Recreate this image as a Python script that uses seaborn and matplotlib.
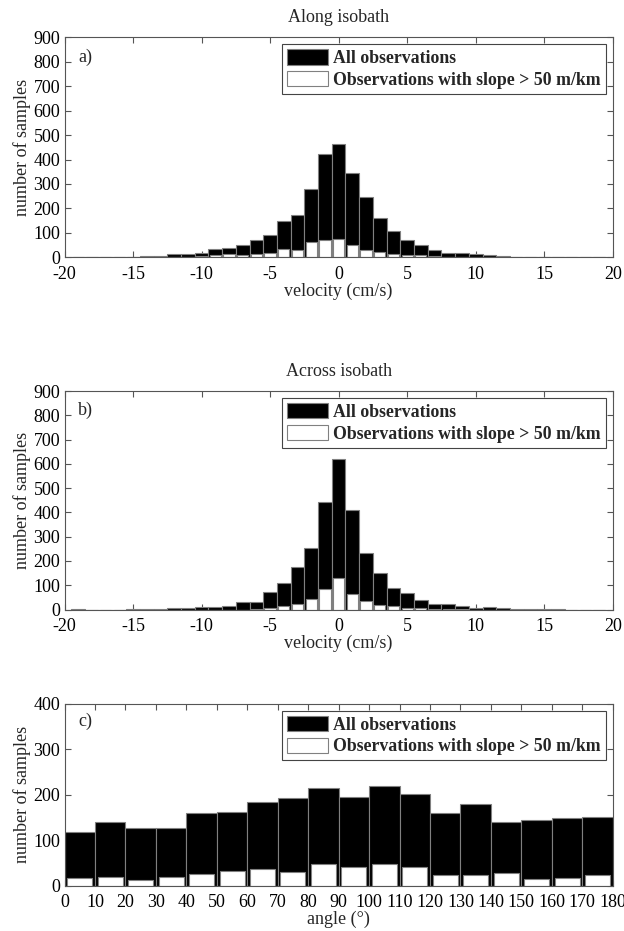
import matplotlib
matplotlib.use("Agg")
import matplotlib.pyplot as plt
from matplotlib.patches import Patch
import pandas as pd
import seaborn as sns

# velocity bins (cm/s), bar centres
velocity = list(range(-19, 20))

along_all = [0, 0, 2, 3, 1, 4, 5, 12, 12, 19, 34, 38, 51, 71, 92, 149, 175, 280, 423,
             464, 347, 248, 159, 108, 72, 51, 29, 19, 19, 15, 8, 4, 0, 0, 2, 3, 0, 0, 0]
along_slope = [0, 0, 0, 0, 0, 0, 0, 0, 3, 4, 8, 12, 11, 12, 19, 34, 31, 62, 71,
               77, 52, 30, 21, 12, 10, 11, 4, 0, 0, 0, 0, 0, 0, 0, 0, 0, 0, 0, 0]

across_all = [2, 0, 0, 0, 1, 3, 4, 7, 8, 11, 12, 16, 31, 31, 71, 109, 176, 255, 441,
              619, 409, 232, 152, 89, 68, 41, 22, 22, 16, 5, 12, 8, 3, 1, 4, 4, 0, 0, 0]
across_slope = [0, 0, 0, 0, 0, 0, 0, 0, 0, 0, 0, 0, 0, 3, 5, 14, 23, 44, 86,
                131, 66, 34, 19, 15, 7, 5, 2, 1, 2, 0, 0, 0, 0, 0, 0, 0, 0, 0, 0]

# angle bins (deg), bar centres
angle = list(range(5, 180, 10))
angle_all = [118, 140, 128, 127, 160, 162, 184, 192, 214, 196, 219, 202, 161, 179,
             140, 144, 148, 152]
angle_slope = [16, 19, 13, 19, 26, 33, 36, 29, 47, 42, 47, 40, 23, 24, 27, 15, 17, 24]

legend_labels = ["All observations", "Observations with slope > 50 m/km"]

sns.set_style("ticks")
plt.rcParams["font.family"] = ["Liberation Serif", "DejaVu Serif"]
plt.rcParams["font.size"] = 13
plt.rcParams["axes.unicode_minus"] = False
plt.rcParams["axes.edgecolor"] = "#555555"
plt.rcParams["axes.linewidth"] = 0.8
plt.rcParams["xtick.color"] = "#555555"
plt.rcParams["ytick.color"] = "#555555"
plt.rcParams["xtick.labelcolor"] = "black"
plt.rcParams["ytick.labelcolor"] = "black"

EDGE = "#808080"


def draw_panel(ax, x, total, slope, binopts, tag, xlabel, xlim, ylim, yticks, xticks):
    df = pd.DataFrame({"x": x, "total": total, "slope": slope})
    sns.histplot(data=df, x="x", weights="total", color="black", edgecolor=EDGE,
                 linewidth=0.8, alpha=1, ax=ax, **binopts)
    sns.histplot(data=df, x="x", weights="slope", color="white", edgecolor=EDGE,
                 linewidth=0.8, alpha=1, shrink=0.82, ax=ax, **binopts)
    ax.set_xlim(*xlim)
    ax.set_ylim(*ylim)
    ax.set_xticks(xticks)
    ax.set_yticks(yticks)
    ax.tick_params(direction="in", top=True, right=True, length=4, width=0.8,
                   labelsize=13)
    ax.tick_params(axis="x", pad=6)
    ax.tick_params(axis="y", pad=3)
    ax.set_xlabel(xlabel, fontsize=13, labelpad=0)
    ax.set_ylabel("number of samples", fontsize=13, labelpad=2)
    ax.text(0.025, 0.95, tag, transform=ax.transAxes, fontsize=13, va="top")
    handles = [Patch(facecolor="black", edgecolor=EDGE, linewidth=0.8),
               Patch(facecolor="white", edgecolor=EDGE, linewidth=0.8)]
    leg = ax.legend(handles, legend_labels, loc="upper right",
                    prop={"weight": "bold", "size": 12.8}, frameon=True,
                    fancybox=False, edgecolor="#444444", framealpha=1,
                    handlelength=2.3, handleheight=0.95, handletextpad=0.3,
                    labelspacing=0.22, borderpad=0.28, borderaxespad=0.4)
    leg.get_frame().set_linewidth(0.8)


fig = plt.figure(figsize=(6.24, 9.31), dpi=100)
ax_a = fig.add_axes([0.1034, 0.7236, 0.8785, 0.2363])
ax_b = fig.add_axes([0.1034, 0.3453, 0.8785, 0.2347])
ax_c = fig.add_axes([0.1034, 0.0487, 0.8785, 0.1952])

vel_bins = {"discrete": True}
ang_bins = {"binwidth": 10, "binrange": (0, 180)}

draw_panel(ax_a, velocity, along_all, along_slope, vel_bins, "a)",
           "velocity (cm/s)", (-20, 20), (0, 900), range(0, 901, 100), range(-20, 21, 5))
ax_a.set_title("Along isobath", fontsize=13, pad=11)

draw_panel(ax_b, velocity, across_all, across_slope, vel_bins, "b)",
           "velocity (cm/s)", (-20, 20), (0, 900), range(0, 901, 100), range(-20, 21, 5))
ax_b.set_title("Across isobath", fontsize=13, pad=11)

draw_panel(ax_c, angle, angle_all, angle_slope, ang_bins, "c)",
           "angle (°)", (0, 180), (0, 400), range(0, 401, 100), range(0, 181, 10))

fig.savefig("out.png", dpi=100)
